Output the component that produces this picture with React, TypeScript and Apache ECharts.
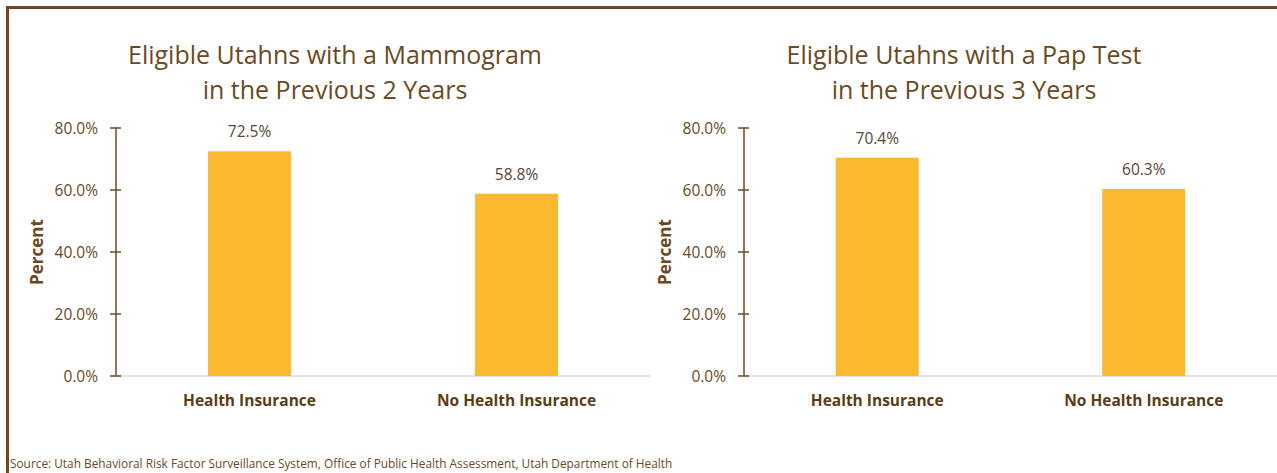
import React, { useEffect, useRef } from "react";
import * as echarts from "echarts";

const categories = ["Health Insurance", "No Health Insurance"];
const mammogramValues = [72.5, 58.8];
const papTestValues = [70.4, 60.3];
const yTicks = [0, 20, 40, 60, 80];
const titles = [
  "Eligible Utahns with a Mammogram\nin the Previous 2 Years",
  "Eligible Utahns with a Pap Test\nin the Previous 3 Years",
];
const sourceText =
  "Source: Utah Behavioral Risk Factor Surveillance System, Office of Public Health Assessment, Utah Department of Health";

const BROWN = "#6b4a1f";
const BAR = "#fbb930";
const FONT = "'Open Sans', 'Noto Sans', sans-serif";

export default function App() {
  const ref = useRef<HTMLDivElement>(null);
  useEffect(() => {
    document.body.style.margin = "0";
    const chart = echarts.init(ref.current!, undefined, { renderer: "svg" });
    const grids = [
      { left: 116, top: 128, width: 534, height: 248 },
      { left: 744, top: 128, width: 533, height: 248 },
    ];
    const seriesData = [mammogramValues, papTestValues];
    const yAxes: any[] = [];
    grids.forEach((_, i) => {
      yAxes.push({
        type: "value",
        gridIndex: i,
        min: yTicks[0],
        max: yTicks[yTicks.length - 1],
        interval: 20,
        name: "Percent",
        nameLocation: "middle",
        nameGap: 71,
        nameTextStyle: { color: BROWN, fontSize: 17, fontWeight: "bold", fontFamily: FONT },
        axisLine: { show: true, lineStyle: { color: BROWN, width: 1.5 } },
        axisTick: { show: true, length: 6, lineStyle: { color: BROWN, width: 1.5 } },
        axisLabel: {
          color: BROWN,
          fontSize: 15.5,
          fontFamily: FONT,
          margin: 18,
          formatter: (v: number) => v.toFixed(1) + "%",
        },
        splitLine: { show: false },
      });
      yAxes.push({
        type: "value",
        gridIndex: i,
        min: yTicks[0],
        max: yTicks[yTicks.length - 1],
        interval: 20,
        position: "left",
        axisLine: { show: false },
        axisTick: { show: true, inside: true, length: 5, lineStyle: { color: BROWN, width: 1.5 } },
        axisLabel: { show: false },
        splitLine: { show: false },
      });
    });
    chart.setOption({
      animation: false,
      title: titles.map((t, i) => ({
        text: t,
        left: i === 0 ? 330 : 959,
        top: 31,
        textAlign: "center",
        textStyle: {
          color: BROWN,
          fontSize: 25,
          fontWeight: "normal",
          fontFamily: FONT,
          lineHeight: 35,
        },
      })),
      grid: grids,
      xAxis: grids.map((_, i) => ({
        type: "category",
        gridIndex: i,
        data: categories,
        axisLine: { show: true, lineStyle: { color: "#d9d9d9", width: 1.5 } },
        axisTick: { show: false },
        axisLabel: {
          color: "#5c3d12",
          fontSize: 15.5,
          fontWeight: "bold",
          fontFamily: FONT,
          margin: 16,
        },
      })),
      yAxis: yAxes,
      series: seriesData.map((d, i) => ({
        type: "bar",
        xAxisIndex: i,
        yAxisIndex: i * 2,
        data: d,
        barWidth: 83,
        itemStyle: { color: BAR },
        label: {
          show: true,
          position: "top",
          distance: 12,
          color: "#5a4632",
          fontSize: 15.5,
          fontFamily: FONT,
          formatter: (p: any) => p.value.toFixed(1) + "%",
        },
      })),
      graphic: [
        {
          type: "rect",
          shape: { x: 6, y: 6, width: 1271, height: 3 },
          style: { fill: BROWN },
          silent: true,
        },
        {
          type: "rect",
          shape: { x: 6, y: 6, width: 3, height: 467 },
          style: { fill: BROWN },
          silent: true,
        },
        {
          type: "text",
          left: 10,
          top: 457,
          style: { text: sourceText, fill: BROWN, fontSize: 11.85, fontFamily: FONT },
        },
      ],
    });
    return () => chart.dispose();
  }, []);
  return <div ref={ref} style={{ width: 1277, height: 473 }} />;
}
